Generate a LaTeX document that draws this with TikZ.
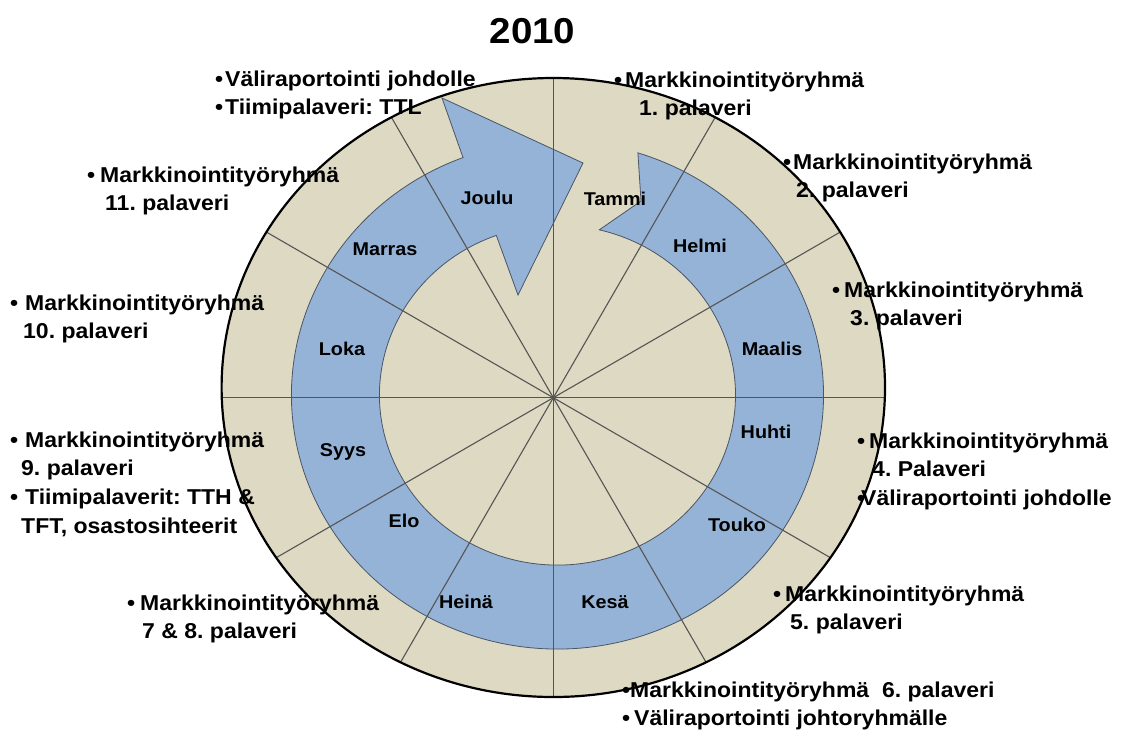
\documentclass[tikz,border=0pt]{standalone}
\usepackage{fontspec}
\setmainfont{Liberation Sans}[FakeStretch=1.07]
\usetikzlibrary{calc}
\definecolor{wheelbg}{RGB}{221,217,195}
\definecolor{monthblue}{RGB}{149,179,215}
\definecolor{spokegray}{RGB}{85,85,85}
\definecolor{arrowline}{RGB}{75,85,100}
\frenchspacing
% bullet with a fixed advance
\newcommand\bul[1][15pt]{\makebox[#1][l]{•}}
\newcommand\lines[1]{\begin{tabular}[t]{@{}l@{}}#1\end{tabular}}

\begin{document}
\begin{tikzpicture}[x=1pt,y=-1pt,
  note/.style={anchor=base west, inner sep=0pt,
    font=\fontsize{21.5}{28.7}\selectfont\bfseries},
  month/.style={anchor=base, inner sep=0pt,
    font=\fontsize{18.5}{21}\selectfont\bfseries}]
\useasboundingbox (0,0) rectangle (1135,729);
\fill[white] (0,0) rectangle (1135,729);

% outer disc
\fill[wheelbg] (553.3,387.5) ellipse [x radius=331.7, y radius=309.5];

% the year arrow running clockwise from January round to December
\filldraw[fill=monthblue, draw=arrowline, line width=0.8pt, line join=miter]
  (637.9,152.9) arc[start angle=-72.4, end angle=249.2, x radius=266, y radius=254]
  -- (442,98) -- (583,163) -- (518,295) -- (496.3,235.4)
  arc[start angle=249.9, end angle=-76.4, x radius=178, y radius=170]
  -- (641,201) -- cycle;

% twelve spokes
\begin{scope}
  \clip (553.3,387.5) ellipse [x radius=331.7, y radius=309.5];
  \coordinate (hub) at (553.3,397.7);
  \foreach \a in {0,30,...,330}
    \draw[spokegray, line width=1.1pt] (hub) -- ++(\a:420);
\end{scope}

% rim
\draw[black, line width=2.2pt] (553.3,387.5) ellipse [x radius=331.7, y radius=309.5];

% month names
\node[month] (tammi)  at (615,205) {Tammi};
\node[month] (helmi)  at (700,252) {Helmi};
\node[month] (maalis) at (772,355) {Maalis};
\node[month] (huhti)  at (766,438) {Huhti};
\node[month] (touko)  at (737,531) {Touko};
\node[month] (kesa)   at (605,608) {Kesä};
\node[month] (heina)  at (466,608) {Heinä};
\node[month] (elo)    at (404,527) {Elo};
\node[month] (syys)   at (343,456) {Syys};
\node[month] (loka)   at (342,355) {Loka};
\node[month] (marras) at (385,255) {Marras};
\node[month] (joulu)  at (487,204) {Joulu};

% title
\node[font=\fontsize{36}{40}\selectfont\bfseries, inner sep=0pt] (title) at (532.5,31.5) {2010};

% notes round the wheel
\node[note] (n12) at (215,86) {\lines{\bul[10pt]Väliraportointi johdolle\\
  \bul[10pt]Tiimipalaveri: TTL}};
\node[note] (n1) at (614,87) {\lines{\bul[11pt]Markkinointityöryhmä\\
  \hspace*{25pt}1. palaveri}};
\node[note] (n2) at (783,169) {\lines{\bul[10pt]Markkinointityöryhmä\\
  \hspace*{13pt}2. palaveri}};
\node[note] (n3) at (832,297) {\lines{\bul[12pt]Markkinointityöryhmä\\
  \hspace*{18pt}3. palaveri}};
\node[note] (n4) at (857,448) {\lines{\bul[12pt]Markkinointityöryhmä\\
  \hspace*{15pt}4. Palaveri\\
  \bul[4pt]Väliraportointi johdolle}};
\node[note] (n5) at (773,601) {\lines{\bul[12pt]Markkinointityöryhmä\\
  \hspace*{17pt}5. palaveri}};
\node[note] (n6) at (622,697) {\lines{\bul[8pt]Markkinointityöryhmä\ \ 6. palaveri\\
  \bul[12pt]Väliraportointi johtoryhmälle}};
\node[note] (n78) at (127,610) {\lines{\bul[13pt]Markkinointityöryhmä\\
  \hspace*{15pt}7 \& 8. palaveri}};
\node[note] (n9) at (10,447) {\lines{\bul[15pt]Markkinointityöryhmä\\
  \hspace*{11pt}9. palaveri\\
  \bul[15pt]Tiimipalaverit: TTH \&\\
  \hspace*{11pt}TFT, osastosihteerit}};
\node[note] (n10) at (10,310) {\lines{\bul[15pt]Markkinointityöryhmä\\
  \hspace*{13pt}10. palaveri}};
\node[note] (n11) at (87,182) {\lines{\bul[13pt]Markkinointityöryhmä\\
  \hspace*{18pt}11. palaveri}};
\end{tikzpicture}
\end{document}
